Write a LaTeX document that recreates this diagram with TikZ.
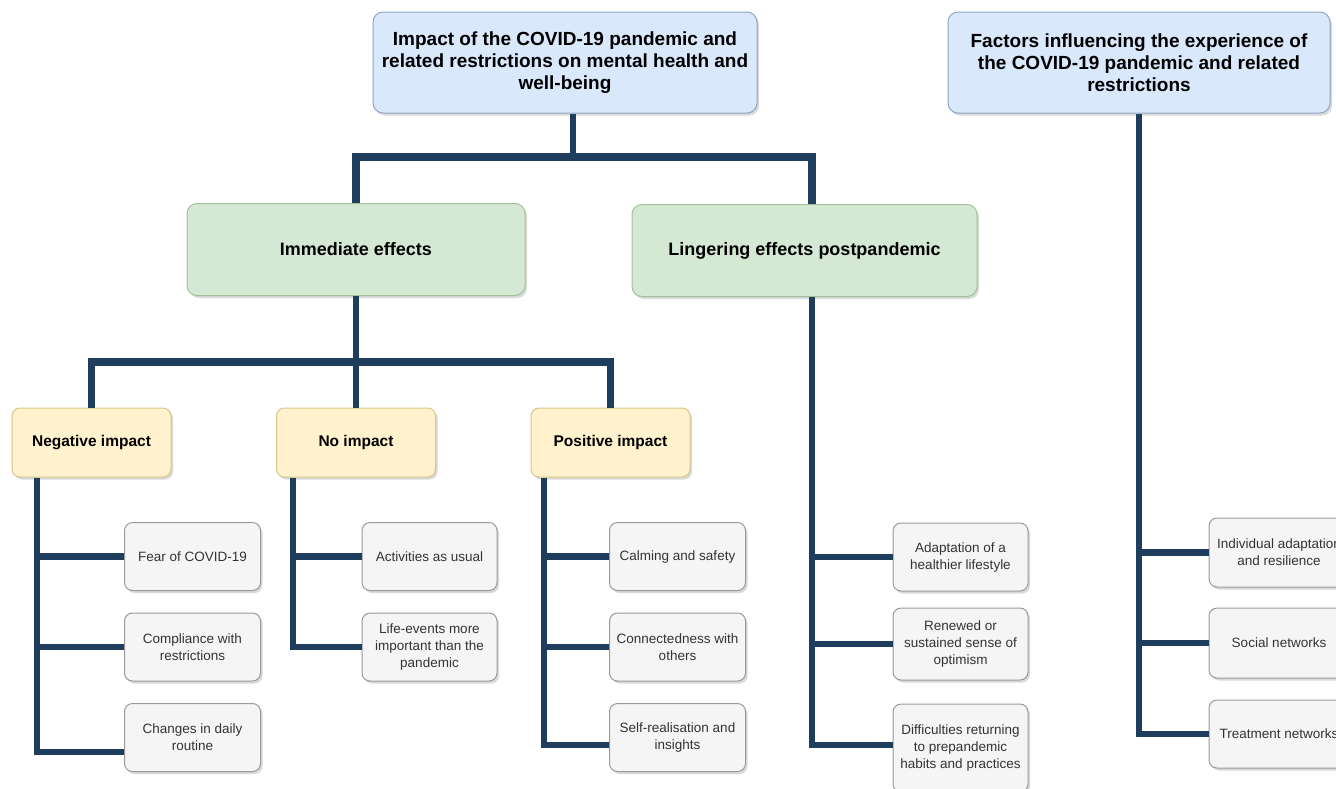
\documentclass[tikz,border=0pt]{standalone}
\usepackage{fontspec}
\setmainfont{Liberation Sans}
\usetikzlibrary{shadows}
\definecolor{lineblue}{HTML}{1F3D5C}
\definecolor{bluefill}{HTML}{DAE8FC}
\definecolor{blueline}{HTML}{8FA6C4}
\definecolor{greenfill}{HTML}{D5E8D4}
\definecolor{greenline}{HTML}{A3C19A}
\definecolor{yellowfill}{HTML}{FFF2CC}
\definecolor{yellowline}{HTML}{D9C48A}
\definecolor{grayfill}{HTML}{F5F5F5}
\definecolor{grayline}{HTML}{9A9A9A}
\definecolor{smalltext}{HTML}{333333}
\tikzset{
  basebox/.style={rounded corners=10pt, line width=1pt, align=center, inner sep=0pt,
    drop shadow={shadow xshift=2pt, shadow yshift=-2.5pt, opacity=0.25, fill=black!60}},
  titlebox/.style={basebox, fill=bluefill, draw=blueline, minimum height=101pt,
    font=\bfseries\fontsize{19}{22}\selectfont},
  effbox/.style={basebox, fill=greenfill, draw=greenline, minimum height=92pt,
    font=\bfseries\fontsize{18}{21}\selectfont},
  impbox/.style={basebox, rounded corners=8pt, fill=yellowfill, draw=yellowline,
    minimum width=159pt, minimum height=69pt, font=\bfseries\fontsize{15.5}{18}\selectfont},
  leafbox/.style={basebox, rounded corners=8pt, fill=grayfill, draw=grayline,
    minimum width=136pt, minimum height=68pt, text=smalltext,
    font=\fontsize{13.5}{17}\selectfont},
  conn/.style={draw=lineblue, line width=6.5pt, line join=miter, line cap=butt},
  bus/.style={conn, line width=7.5pt},
}
\begin{document}
\begin{tikzpicture}[x=1pt,y=-1pt]
\useasboundingbox (0,0) rectangle (1336,788);
\clip (0,0) rectangle (1336,788);

% top level
\node[titlebox, minimum width=384pt] (top1) at (565,62.5)
  {Impact of the COVID-19 pandemic and\\related restrictions on mental health and\\well-being};
\node[titlebox, minimum width=382pt] (top2) at (1139,62.5)
  {Factors influencing the experience of\\the COVID-19 pandemic and related\\restrictions};

% effects
\node[effbox, minimum width=338pt] (ime) at (356,249.5) {Immediate effects};
\node[effbox, minimum width=345pt] (ling) at (804.5,250.5) {Lingering effects postpandemic};

% impacts
\node[impbox] (neg) at (91.5,442.5) {Negative impact};
\node[impbox] (noi) at (356,442.5) {No impact};
\node[impbox] (pos) at (610.5,442.5) {Positive impact};

% leaves: negative
\node[leafbox] (fear) at (192.5,556.5) {Fear of COVID-19};
\node[leafbox] (comp) at (192.5,647) {Compliance with\\restrictions};
\node[leafbox] (chg) at (192.5,737.5) {Changes in daily\\routine};
% leaves: no impact
\node[leafbox, minimum width=135pt] (act) at (429.5,556.5) {Activities as usual};
\node[leafbox, minimum width=135pt] (life) at (429.5,647) {Life-events more\\important than the\\pandemic};
% leaves: positive
\node[leafbox] (calm) at (677.5,556.5) {Calming and safety};
\node[leafbox] (cnx) at (677.5,647) {Connectedness with\\others};
\node[leafbox] (self) at (677.5,737.5) {Self-realisation and\\insights};
% leaves: lingering
\node[leafbox, minimum width=135pt] (adap) at (960.5,557) {Adaptation of a\\healthier lifestyle};
\node[leafbox, minimum width=135pt, minimum height=72pt] (opt) at (960.5,644) {Renewed or\\sustained sense of\\optimism};
\node[leafbox, minimum width=135pt, minimum height=88pt] (diff) at (960.5,748) {Difficulties returning\\to prepandemic\\habits and practices};
% leaves: factors
\node[leafbox, minimum width=140pt, minimum height=69pt] (indiv) at (1279,552.5) {Individual adaptation\\and resilience};
\node[leafbox, minimum width=140pt, minimum height=70pt] (soc) at (1279,643) {Social networks};
\node[leafbox, minimum width=140pt, minimum height=68pt] (treat) at (1279,734) {Treatment networks};

% connectors: top level
\coordinate (j1) at ([xshift=8pt]top1.south);
\draw[conn, line width=6pt] (j1) -- ++(0,44);
\draw[bus] (ime.north) |- ([xshift=7.5pt]ling.north |- 0,157) -- ([xshift=7.5pt]ling.north);
\draw[conn, line width=6pt] (top2.south) |- (treat.west);
\draw[conn] (top2.south |- indiv.west) -- (indiv.west);
\draw[conn] (top2.south |- soc.west) -- (soc.west);

% connectors: immediate effects
\draw[conn, line width=5.5pt] (ime.south) -- (ime.south |- 0,362);
\draw[bus] (neg.north) |- (pos.north |- 0,362) -- (pos.north);
\draw[conn, line width=5.5pt] (noi.north |- 0,362) -- (noi.north);

% connectors: negative
\coordinate (nv) at ([xshift=-54.5pt]neg.south);
\draw[conn] (nv) |- ([yshift=-14.5pt]chg.west);
\draw[conn] (nv |- fear.west) -- (fear.west);
\draw[conn] (nv |- comp.west) -- (comp.west);

% connectors: no impact
\coordinate (ov) at ([xshift=-63pt]noi.south);
\draw[conn] (ov) |- (life.west);
\draw[conn] (ov |- act.west) -- (act.west);

% connectors: positive
\coordinate (pv) at ([xshift=-66.5pt]pos.south);
\draw[conn] (pv) |- ([yshift=-7.5pt]self.west);
\draw[conn] (pv |- calm.west) -- (calm.west);
\draw[conn] (pv |- cnx.west) -- (cnx.west);

% connectors: lingering
\coordinate (lv) at ([xshift=7.5pt]ling.south);
\draw[conn] (lv) |- ([yshift=3pt]diff.west);
\draw[conn] (lv |- adap.west) -- (adap.west);
\draw[conn] (lv |- opt.west) -- (opt.west);
\end{tikzpicture}
\end{document}
